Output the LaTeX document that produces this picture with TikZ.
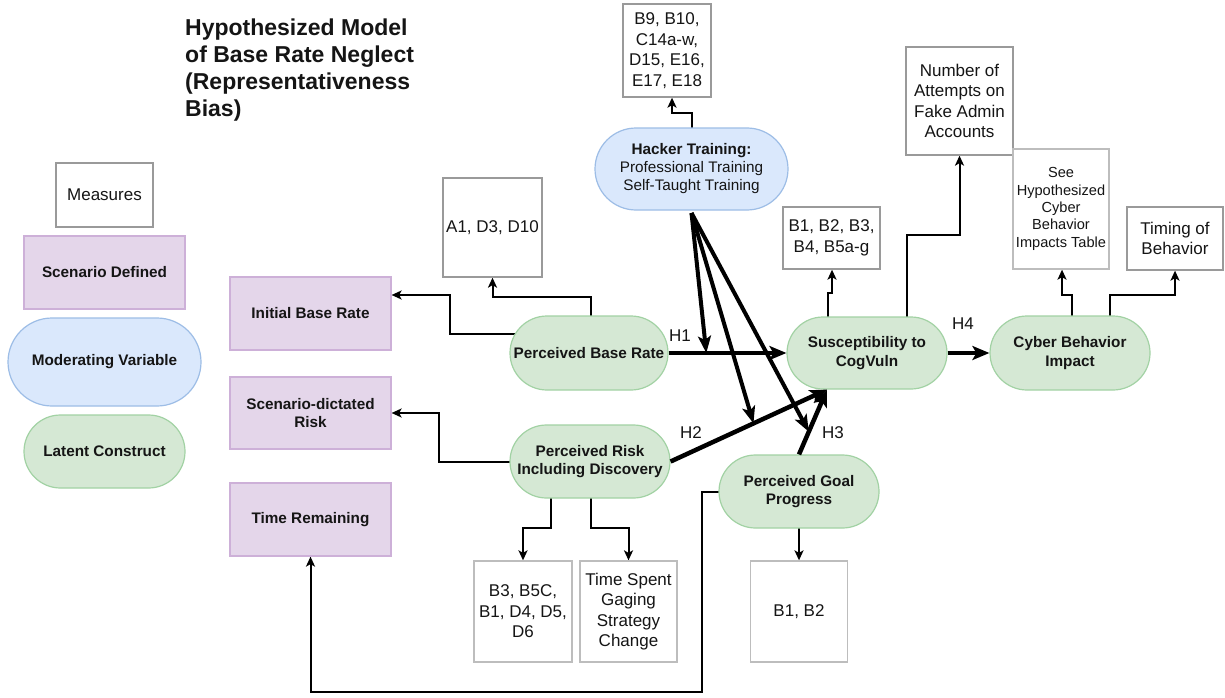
\documentclass[tikz,border=0pt]{standalone}
\usepackage{fontspec}
\setmainfont{Liberation Sans}
\usetikzlibrary{arrows.meta,shapes.misc,backgrounds}

\definecolor{inkc}{HTML}{151515}
\definecolor{latfill}{HTML}{D5E8D4}
\definecolor{latline}{HTML}{A2D2A4}
\definecolor{modfill}{HTML}{DAE8FC}
\definecolor{modline}{HTML}{9DBDE6}
\definecolor{scenfill}{HTML}{E4D6EA}
\definecolor{scenline}{HTML}{CDB0D8}
\definecolor{measline}{HTML}{9A9A9A}
\definecolor{measlight}{HTML}{BDBDBD}

\begin{document}
\begin{tikzpicture}[x=1pt,y=-1pt,
  every node/.style={text=inkc},
  measure/.style={draw=measline, line width=1.3pt, fill=white, align=center,
    inner sep=0pt, font=\fontsize{17}{20.5}\selectfont},
  scen/.style={rectangle, draw=scenline, fill=scenfill, line width=1.2pt, align=center,
    inner sep=0pt, minimum width=161pt, minimum height=73pt,
    font=\bfseries\fontsize{15.3}{18.5}\selectfont},
  latent/.style={rounded rectangle, draw=latline, fill=latfill, line width=1.2pt,
    align=center, inner sep=0pt, minimum width=160pt, minimum height=73pt,
    font=\bfseries\fontsize{15.3}{18.5}\selectfont},
  moder/.style={rounded rectangle, draw=modline, fill=modfill, line width=1.2pt,
    align=center, inner sep=0pt, minimum width=193pt, minimum height=86pt,
    font=\fontsize{15.3}{18}\selectfont},
  conn/.style={line width=2pt, -{Stealth[length=10pt,width=9pt,inset=2.5pt]}},
  hyp/.style={line width=4.5pt, -{Stealth[length=17pt,width=14pt,inset=4pt]}},
  modarr/.style={line width=4pt, -{Stealth[length=17pt,width=13pt,inset=4pt]}},
  hlab/.style={inner sep=0pt, font=\fontsize{17}{20}\selectfont}
]
\useasboundingbox (0,0) rectangle (1225,698);

% title
\node[anchor=north west, align=left, inner sep=0pt,
      font=\bfseries\fontsize{23}{27}\selectfont] (title) at (185,19)
  {Hypothesized Model\\of Base Rate Neglect\\(Representativeness\\Bias)};

% legend
\node[measure, minimum width=97pt, minimum height=64pt] (lmeas) at (104.5,195) {Measures};
\node[scen] (lscen) at (104.5,272.5) {Scenario Defined};
\node[moder, minimum height=88pt, font=\bfseries\fontsize{15.3}{18}\selectfont] (lmod) at (104.5,362) {Moderating Variable};
\node[latent, minimum width=161pt] (llat) at (104.5,451.5) {Latent Construct};

% scenario-defined variables
\node[scen] (ibr) at (310.5,313.5) {Initial Base Rate};
\node[scen, minimum height=72pt] (sdr) at (310.5,413) {Scenario-dictated\\Risk};
\node[scen] (trem) at (310.5,519.5) {Time Remaining};

% latent constructs
\node[latent, minimum width=158pt, minimum height=74pt] (pbr) at (589,353) {Perceived Base Rate};
\node[latent, minimum height=72pt] (sus) at (867,353) {Susceptibility to\\CogVuln};
\node[latent, minimum height=74pt] (cbi) at (1070,353) {Cyber Behavior\\Impact};
\node[latent] (prid) at (590,461.5) {Perceived Risk\\Including Discovery};
\node[latent] (pgp) at (799,491.5) {Perceived Goal\\Progress};

% moderator
\node[moder, minimum height=82pt] (hack) at (691.5,169)
  {\textbf{Hacker Training:}\\Professional Training\\Self-Taught Training};

% measures
\node[measure, minimum width=99pt, minimum height=99pt] (madx) at (492.5,227.5) {A1, D3, D10};
\node[measure, minimum width=88pt, minimum height=93pt] (mb9) at (667,50.5)
  {B9, B10,\\C14a-w,\\D15, E16,\\E17, E18};
\node[measure, minimum width=97pt, minimum height=62pt] (mb1) at (831.5,238) {B1, B2, B3,\\B4, B5a-g};
\node[measure, minimum width=107pt, minimum height=108pt] (mnum) at (959.5,101)
  {Number of\\Attempts on\\Fake Admin\\Accounts};
\node[measure, draw=measlight, minimum width=96pt, minimum height=120pt,
      font=\fontsize{14.6}{17.3}\selectfont] (msee) at (1061,209)
  {See\\Hypothesized\\Cyber\\Behavior\\Impacts Table};
\node[measure, minimum width=96pt, minimum height=63pt] (mtim) at (1175,238.5) {Timing of\\Behavior};
\node[measure, draw=measlight, minimum width=98pt, minimum height=101pt] (mb3) at (523,611.5)
  {B3, B5C,\\B1, D4, D5,\\D6};
\node[measure, draw=measlight, minimum width=97pt, minimum height=101pt] (mtime) at (628.5,611.5)
  {Time Spent\\Gaging\\Strategy\\Change};
\node[measure, draw=measlight, minimum width=97pt, minimum height=101pt] (mb12) at (799,611.5) {B1, B2};

% measurement connectors, routed behind the shapes
\begin{scope}[on background layer]
  \fill[white] (0,0) rectangle (1225,698);
  \draw[conn] ([yshift=19pt]pbr.center) -- (450,334) -- (450,295) -- ([yshift=18.5pt]ibr.east);
  \draw[conn] ([xshift=2pt]pbr.center) -- (591,297) -- (492.5,297) -- (madx.south);
  \draw[conn] (prid.center) -- (439,461.5) -- (439,413) -- (sdr.east);
  \draw[conn] ([xshift=-39pt]prid.center) -- (551,528) -- (523,528) -- (mb3.north);
  \draw[conn] ([xshift=1pt]prid.center) -- (591,528) -- (628.5,528) -- (mtime.north);
  \draw[conn] (pgp.center) -- (mb12.north);
  \draw[conn] (pgp.center) -- (702,491.5) -- (702,692) -- (310.5,692) -- (trem.south);
  \draw[conn] ([xshift=0.5pt]hack.center) -- (692,113) -- (672,113) -- ([xshift=5pt]mb9.south);
  \draw[conn] ([xshift=-39pt]sus.center) -- (828,293) -- (832,293) -- ([xshift=0.5pt]mb1.south);
  \draw[conn] ([xshift=40pt]sus.center) -- (907,235) -- (959.5,235) -- (mnum.south);
  \draw[conn] ([xshift=2pt]cbi.center) -- (1072,295) -- (1062,295) -- ([xshift=1pt]msee.south);
  \draw[conn] ([xshift=40pt]cbi.center) -- (1110,295) -- (1175,295) -- (mtim.south);
\end{scope}

% hypothesised paths
\coordinate (susin) at ([xshift=-40pt]sus.south);
\draw[hyp] (pbr.east) -- (sus.west);
\draw[hyp] (sus.east) -- (cbi.west);
\draw[hyp] (prid.east) -- (susin);
\draw[hyp] (pgp.north) -- (susin);

\node[hlab] (h1) at (680,336) {H1};
\node[hlab] (h2) at (691,433) {H2};
\node[hlab] (h3) at (833,433) {H3};
\node[hlab] (h4) at (963,324) {H4};

% moderation by hacker training
\path (pbr.east) -- (sus.west) coordinate[pos=0.32] (h1m);
\path (prid.east) -- (susin) coordinate[pos=0.53] (h2m);
\path (pgp.north) -- (susin) coordinate[pos=0.35] (h3m);
\coordinate (hk) at ([yshift=-44pt]hack.center);
\draw[modarr] (hk) -- (h1m);
\draw[modarr] (hk) -- (h2m);
\draw[modarr] (hk) -- (h3m);
\end{tikzpicture}
\end{document}
